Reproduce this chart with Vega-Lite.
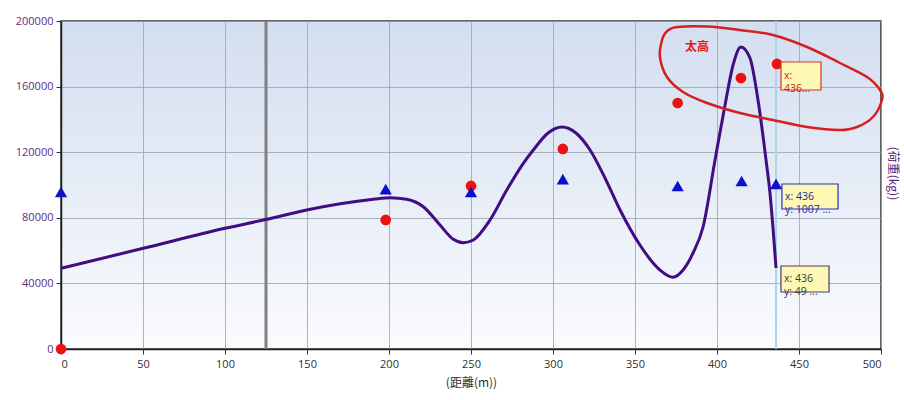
{
  "$schema": "https://vega.github.io/schema/vega-lite/v6.json",
  "width": 820,
  "height": 328,
  "autosize": {"type": "none"},
  "padding": {"left": 61, "top": 21, "right": 23, "bottom": 51},
  "background": "#ffffff",
  "config": {
    "font": "Open Sans",
    "view": {
      "stroke": "#303030",
      "strokeWidth": 1.5,
      "fill": {
        "gradient": "linear",
        "x1": 0, "y1": 0, "x2": 0, "y2": 1,
        "stops": [
          {"offset": 0, "color": "#d3def0"},
          {"offset": 1, "color": "#fafbfd"}
        ]
      }
    },
    "axisX": {
      "format": "d",
      "tickCount": 10,
      "labelFont": "Open Sans",
      "labelFontSize": 11,
      "labelColor": "#303030",
      "labelPadding": 4,
      "tickColor": "#303030",
      "tickSize": 5,
      "domainColor": "#202020",
      "domainWidth": 1.5,
      "gridColor": "#9aa2ac",
      "gridOpacity": 0.8,
      "titleFont": "Noto Sans CJK TC",
      "titleFontSize": 12,
      "titleFontWeight": "normal",
      "titleColor": "#303030",
      "titlePadding": 8
    }
  },
  "datasets": {
    "curve": [
      {"x": 0, "y": 49207},
      {"x": 50.2, "y": 61402},
      {"x": 100, "y": 73598},
      {"x": 125.4, "y": 79085},
      {"x": 149.8, "y": 84756},
      {"x": 190.4, "y": 91280},
      {"x": 200.6, "y": 92256},
      {"x": 210.8, "y": 91280},
      {"x": 220.9, "y": 86768},
      {"x": 231.1, "y": 75610},
      {"x": 239.2, "y": 66890},
      {"x": 245.3, "y": 64817},
      {"x": 251.4, "y": 66463},
      {"x": 261.6, "y": 78659},
      {"x": 271.8, "y": 96951},
      {"x": 281.9, "y": 113232},
      {"x": 288.0, "y": 121341},
      {"x": 297.0, "y": 131707},
      {"x": 305.5, "y": 135366},
      {"x": 314.0, "y": 131707},
      {"x": 322.6, "y": 121341},
      {"x": 331.7, "y": 104268},
      {"x": 340.9, "y": 84756},
      {"x": 353.0, "y": 63415},
      {"x": 365.2, "y": 48171},
      {"x": 373.2, "y": 43720},
      {"x": 379.3, "y": 48171},
      {"x": 385.4, "y": 58537},
      {"x": 391.5, "y": 74390},
      {"x": 398.8, "y": 115244},
      {"x": 404.9, "y": 148780},
      {"x": 409.8, "y": 173171},
      {"x": 414.6, "y": 184146},
      {"x": 420.1, "y": 177439},
      {"x": 425.0, "y": 151829},
      {"x": 429.9, "y": 115244},
      {"x": 432.3, "y": 95122},
      {"x": 434.1, "y": 74390},
      {"x": 436.0, "y": 49390}
    ],
    "red": [
      {"x": 0, "y": 0},
      {"x": 198, "y": 78700},
      {"x": 250, "y": 99400},
      {"x": 306, "y": 122000},
      {"x": 376, "y": 150000},
      {"x": 414.6, "y": 165200},
      {"x": 436.6, "y": 173800}
    ],
    "blue": [
      {"x": 0, "y": 95700},
      {"x": 198, "y": 97500},
      {"x": 250, "y": 95700},
      {"x": 306, "y": 103600},
      {"x": 376, "y": 99400},
      {"x": 415, "y": 102400},
      {"x": 436, "y": 100700}
    ],
    "ellipse": [
      {"i": 0, "x": 376.0, "y": 196300},
      {"i": 1, "x": 393.9, "y": 196600},
      {"i": 2, "x": 414.0, "y": 194512},
      {"i": 3, "x": 434.1, "y": 191463},
      {"i": 4, "x": 454.9, "y": 184146},
      {"i": 5, "x": 475.0, "y": 174390},
      {"i": 6, "x": 491.5, "y": 165854},
      {"i": 7, "x": 499.4, "y": 157927},
      {"i": 8, "x": 500.6, "y": 151829},
      {"i": 9, "x": 495.1, "y": 141463},
      {"i": 10, "x": 485.4, "y": 135366},
      {"i": 11, "x": 475.0, "y": 133537},
      {"i": 12, "x": 454.9, "y": 135366},
      {"i": 13, "x": 434.1, "y": 139634},
      {"i": 14, "x": 414.0, "y": 143902},
      {"i": 15, "x": 393.9, "y": 150000},
      {"i": 16, "x": 379.3, "y": 156707},
      {"i": 17, "x": 369.5, "y": 165854},
      {"i": 18, "x": 365.2, "y": 178049},
      {"i": 19, "x": 366.5, "y": 188415},
      {"i": 20, "x": 369.5, "y": 193800}
    ],
    "boxes": [
      {"id": "a", "x1": 439.0, "x2": 463.4, "y1": 175000, "y2": 157927, "tx": 440.8, "ty": 166400, "label": "x:\n436..."},
      {"id": "b", "x1": 439.6, "x2": 473.8, "y1": 100610, "y2": 85366, "tx": 441.4, "ty": 92900, "label": "x: 436\ny: 1007 ..."},
      {"id": "c", "x1": 439.0, "x2": 468.3, "y1": 50610, "y2": 34756, "tx": 440.8, "ty": 42600, "label": "x: 436\ny: 49 ..."}
    ],
    "notes": [
      {"x": 387.8, "y": 184146, "label": "太高"}
    ],
    "marker": [{"x": 125}],
    "cursor": [{"x": 436}]
  },
  "resolve": {"axis": {"y": "independent"}},
  "layer": [
    {
      "data": {"name": "marker"},
      "mark": {"type": "rule", "color": "#808080", "strokeWidth": 3},
      "encoding": {
        "x": {
          "field": "x", "type": "quantitative",
          "scale": {"domain": [0, 500], "nice": false, "zero": false},
          "title": "(距離(m))"
        }
      }
    },
    {
      "data": {"name": "cursor"},
      "mark": {"type": "rule", "color": "#a9d6e8", "strokeWidth": 2},
      "encoding": {
        "x": {"field": "x", "type": "quantitative", "title": "(距離(m))"}
      }
    },
    {
      "data": {"name": "curve"},
      "mark": {"type": "line", "interpolate": "monotone", "color": "#420d82", "strokeWidth": 3},
      "encoding": {
        "x": {"field": "x", "type": "quantitative", "title": "(距離(m))"},
        "y": {
          "field": "y", "type": "quantitative",
          "scale": {"domain": [0, 200000], "nice": false},
          "title": null,
          "axis": {
            "values": [0, 40000, 80000, 120000, 160000, 200000],
            "format": "d",
            "labelFont": "Open Sans",
            "labelFontSize": 11,
            "labelColor": "#5a2d82",
            "labelPadding": 3,
            "tickColor": "#303030",
            "tickSize": 5,
            "domainColor": "#202020",
            "domainWidth": 1.5,
            "gridColor": "#9aa2ac",
            "gridOpacity": 0.8
          }
        }
      }
    },
    {
      "data": {"name": "red"},
      "mark": {"type": "point", "shape": "circle", "filled": true, "color": "#ee1111", "size": 115, "opacity": 1},
      "encoding": {
        "x": {"field": "x", "type": "quantitative", "title": "(距離(m))"},
        "y": {"field": "y", "type": "quantitative", "axis": null}
      }
    },
    {
      "data": {"name": "blue"},
      "mark": {"type": "point", "shape": "triangle-up", "filled": true, "color": "#0a10cc", "size": 150, "opacity": 1},
      "encoding": {
        "x": {"field": "x", "type": "quantitative", "title": "(距離(m))"},
        "y": {"field": "y", "type": "quantitative", "axis": null}
      }
    },
    {
      "data": {"name": "ellipse"},
      "mark": {"type": "line", "interpolate": "cardinal-closed", "color": "#d42020", "strokeWidth": 2.5},
      "encoding": {
        "x": {"field": "x", "type": "quantitative", "title": "(距離(m))"},
        "y": {"field": "y", "type": "quantitative", "axis": null},
        "order": {"field": "i", "type": "quantitative"}
      }
    },
    {
      "data": {"name": "notes"},
      "mark": {"type": "text", "color": "#e01c1c", "fontSize": 12, "fontWeight": "bold", "font": "Noto Sans CJK TC"},
      "encoding": {
        "x": {"field": "x", "type": "quantitative", "title": "(距離(m))"},
        "y": {"field": "y", "type": "quantitative", "axis": null},
        "text": {"field": "label"}
      }
    },
    {
      "data": {"name": "boxes"},
      "mark": {"type": "rect", "fill": "#fdf8b4", "strokeWidth": 1.2},
      "encoding": {
        "x": {"field": "x1", "type": "quantitative", "title": "(距離(m))"},
        "x2": {"field": "x2"},
        "y": {"field": "y1", "type": "quantitative", "axis": null},
        "y2": {"field": "y2"},
        "stroke": {
          "field": "id", "type": "nominal",
          "scale": {"domain": ["a", "b", "c"], "range": ["#d83030", "#2030c0", "#4a3a6a"]},
          "legend": null
        }
      }
    },
    {
      "data": {"name": "boxes"},
      "mark": {"type": "text", "align": "left", "baseline": "middle", "fontSize": 10.5, "lineHeight": 13, "lineBreak": "\n", "font": "Open Sans"},
      "encoding": {
        "x": {"field": "tx", "type": "quantitative", "title": "(距離(m))"},
        "y": {"field": "ty", "type": "quantitative", "axis": null},
        "text": {"field": "label"},
        "color": {
          "field": "id", "type": "nominal",
          "scale": {"domain": ["a", "b", "c"], "range": ["#c82020", "#1a2a9a", "#3a3a3a"]},
          "legend": null
        }
      }
    },
    {
      "data": {"name": "red"},
      "mark": {"type": "point", "opacity": 0},
      "encoding": {
        "x": {"field": "x", "type": "quantitative", "title": "(距離(m))"},
        "y": {
          "field": "y", "type": "quantitative",
          "title": "(荷重(kg))",
          "axis": {
            "orient": "right",
            "labels": false,
            "ticks": false,
            "domain": false,
            "grid": false,
            "titleFont": "Noto Sans CJK TC",
            "titleFontSize": 12,
            "titleFontWeight": "normal",
            "titleColor": "#5a2d82",
            "titlePadding": 4,
            "titleY": 152
          }
        }
      }
    }
  ]
}
